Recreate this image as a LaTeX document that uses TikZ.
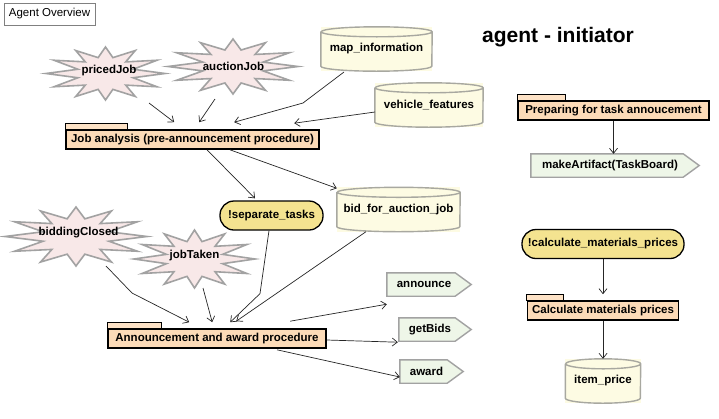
\documentclass[tikz,border=0pt]{standalone}
\usepackage{fontspec}
\setmainfont{Liberation Sans}
\usetikzlibrary{arrows.meta,calc,backgrounds}
\definecolor{starfill}{HTML}{F8E8E8}
\definecolor{graystroke}{HTML}{A2A2A2}
\definecolor{cylfill}{HTML}{FDFBE3}
\definecolor{cylstroke}{HTML}{A8A8A0}
\definecolor{pkgfill}{HTML}{FCDBB8}
\definecolor{tabfill}{HTML}{FDE2C6}
\definecolor{goalfill}{HTML}{F4E390}
\definecolor{sigfill}{HTML}{EEF6E8}
\tikzset{
  lbl/.style={font=\fontsize{11.5}{13}\selectfont\bfseries, inner sep=1pt},
  arr/.style={draw=black!85, line width=0.7pt, -{Straight Barb[length=5pt,width=8pt,line width=0.7pt]}},
  pkg/.style={lbl, draw=black, line width=1.6pt, fill=pkgfill, minimum height=19pt, inner xsep=3pt},
  tabstyle/.style={draw=black, line width=0.8pt, fill=tabfill},
  goal/.style={lbl, draw=black, line width=1.3pt, fill=goalfill, rounded corners=14pt, minimum height=29pt},
  sigbox/.style={lbl, minimum height=23pt},
  sigline/.style={draw=graystroke, line width=1.4pt, fill=sigfill},
  cylbox/.style={lbl, minimum height=44pt},
  cylline/.style={draw=cylstroke, line width=1.4pt},
  burstline/.style={draw=graystroke, line width=1.6pt, fill=starfill},
}
\newcommand\pkgnode[6]{%
  \node[pkg, minimum width=#4pt] (#1) at (#2,#3) {#6};
  \begin{scope}[on background layer]
    \draw[tabstyle] (#1.north west) rectangle ([xshift=#5pt,yshift=6pt]#1.north west);
  \end{scope}}
\newcommand\cyl[5]{%
  \node[cylbox, minimum width=#4pt] (#1) at (#2,#3) {#5};
  \begin{scope}[on background layer]
    \fill[cylfill] (#1.north west) rectangle (#1.south east);
    \draw[cylline] ([yshift=-5pt]#1.north west) -- ([yshift=5pt]#1.south west)
      arc[start angle=180,end angle=360,x radius=#4pt/2,y radius=5pt]
      -- ([yshift=-5pt]#1.north east)
      arc[start angle=0,end angle=180,x radius=#4pt/2,y radius=5pt]
      arc[start angle=180,end angle=360,x radius=#4pt/2,y radius=5pt];
  \end{scope}}
\newcommand\sig[5]{%
  \node[sigbox, minimum width=#4pt] (#1) at (#2,#3) {#5\hspace*{10pt}};
  \begin{scope}[on background layer]
    \draw[sigline] (#1.north west) -- ([xshift=-16pt]#1.north east) -- (#1.east)
      -- ([xshift=-16pt]#1.south east) -- (#1.south west) -- cycle;
  \end{scope}}
\newcommand\burst[8]{%
  \node[lbl] (#1) at (#2,#3) {#8};
  \begin{scope}[on background layer]
    \draw[burstline] plot[samples at={0,15,...,345}]
      ({#4+#6*(0.74+0.26*cos(12*\x))*cos(\x)},{#5+#7*(0.81+0.19*cos(12*\x))*sin(\x)}) -- cycle;
  \end{scope}}
\begin{document}
\begin{tikzpicture}[x=1pt,y=-1pt]
\useasboundingbox (0,0) rectangle (719,418);
\begin{scope}[on background layer]
  \fill[white] (0,0) rectangle (719,418);
\end{scope}

\node[draw=black!50, line width=0.8pt, font=\fontsize{11.5}{13}\selectfont, minimum width=91pt, minimum height=22pt, inner sep=1pt] (ov) at (49.5,14) {Agent Overview};
\node[font=\fontsize{21}{25}\selectfont\bfseries, inner sep=0pt] (title) at (558,37) {agent - initiator};

\burst{pj}{109}{71}{105.5}{73.5}{59.5}{26.5}{pricedJob}
\burst{aj}{233.5}{66}{233}{66.5}{65}{27.5}{auctionJob}
\burst{bc}{78.5}{233}{76}{236.5}{71}{29.5}{biddingClosed}
\burst{jt}{194.5}{256}{194.5}{259}{60.5}{29}{jobTaken}

\cyl{mi}{376.5}{49}{111}{map\_information}
\cyl{vf}{429}{105}{108}{vehicle\_features}
\cyl{bf}{398.5}{209.5}{123}{bid\_for\_auction\_job}
\cyl{ip}{603}{381}{75}{item\_price}

\pkgnode{ja}{192.5}{139.5}{253}{62}{Job analysis (pre-announcement procedure)}
\pkgnode{aa}{217}{338.5}{218}{54}{Announcement and award procedure}
\pkgnode{pt}{613.5}{110.5}{191}{48}{Preparing for task annoucement}
\pkgnode{cp}{603}{310.5}{151}{37}{Calculate materials prices}

\node[goal, minimum width=103pt] (st) at (271.5,215.5) {!separate\_tasks};
\node[goal, minimum width=162pt] (cm) at (603,244) {!calculate\_materials\_prices};

\sig{an}{429}{284.5}{84}{announce}
\sig{gb}{435}{329.5}{72}{getBids}
\sig{aw}{431.5}{371.5}{63}{award}
\sig{ma}{615}{165.5}{168}{makeArtifact(TaskBoard)}

% connectors into Job analysis
\draw[arr] ($(pj)+(40,32)$) -- ($(ja.north west)+(109,-7)$);
\draw[arr] ($(aj)+(-18.5,33)$) -- ($(ja.north west)+(134,-7)$);
\draw[arr] ($(mi)+(-32.5,23)$) -- ($(mi)+(-73.5,54)$) -- ($(ja.north west)+(169,-7)$);
\draw[arr] ($(vf)+(-54,7)$) -- ($(ja.north west)+(229,-6)$);
% out of Job analysis
\draw[arr] ($(ja.south)+(14.5,0)$) -- ($(st.north)+(-16.5,-2)$);
\draw[arr] ($(ja.south)+(37.5,0)$) -- ($(bf.north west)+(0,1)$);
% into Announcement
\draw[arr] ($(bc)+(27.5,33)$) -- ($(bc)+(53.5,60)$) -- ($(aa.north west)+(82,-6)$);
\draw[arr] ($(jt)+(8.5,32)$) -- ($(aa.north west)+(105,-6)$);
\draw[arr] ($(st.south)+(-2.5,0)$) -- ($(st.south)+(-11.5,63)$) -- ($(aa.north west)+(123,-6)$);
\draw[arr] ($(bf.south)+(-32.5,0)$) -- ($(aa.north west)+(129,-7)$);
% out of Announcement
\draw[arr] ($(aa.north west)+(183,-7)$) -- ($(an.south west)+(0,8)$);
\draw[arr] ($(aa.east)+(0,1.5)$) -- ($(gb.south west)+(-1,1)$);
\draw[arr] ($(aa.south)+(60,1)$) -- ($(aw.west)+(0,5.5)$);
% right column
\draw[arr] (pt.south) -- (pt.south |- ma.north);
\draw[arr] (cm.south) -- ($(cp.north)+(0,-6)$);
\draw[arr] (cp.south) -- (ip.north);
\end{tikzpicture}
\end{document}
